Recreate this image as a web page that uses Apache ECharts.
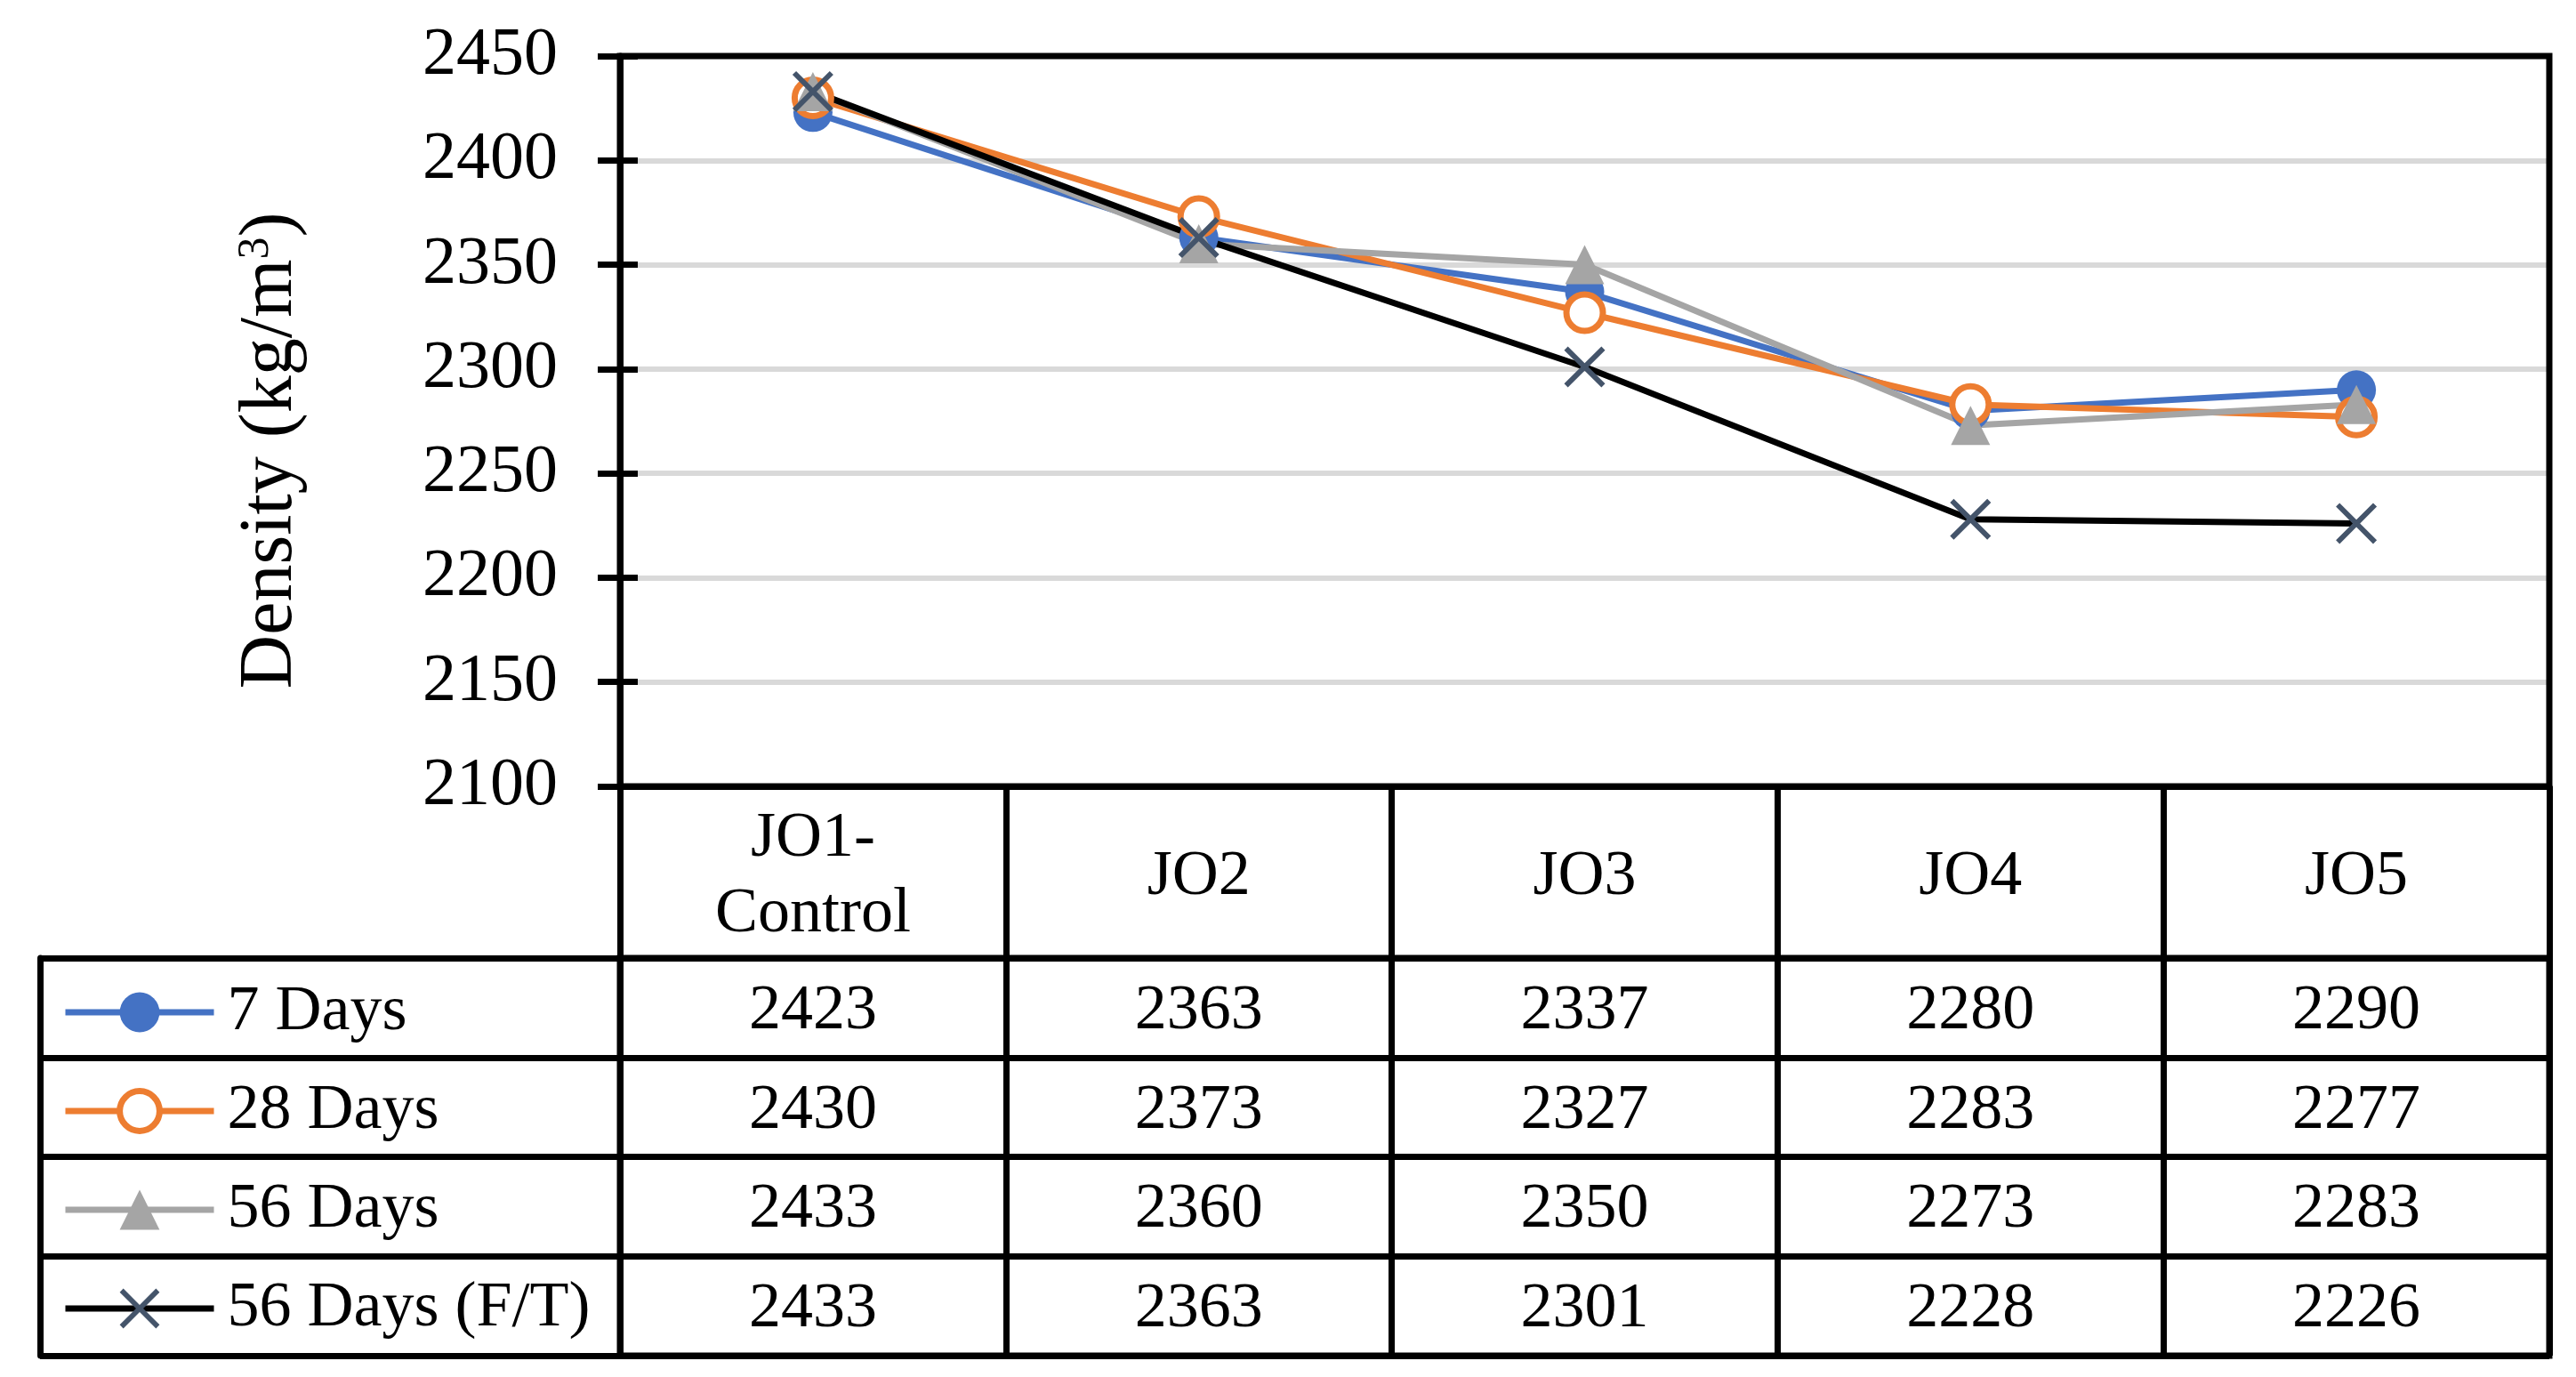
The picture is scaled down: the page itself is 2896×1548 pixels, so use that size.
<!DOCTYPE html>
<html>
<head>
<meta charset="utf-8">
<script src="https://cdn.jsdelivr.net/npm/echarts@6/dist/echarts.min.js"></script>
<style>
html,body{margin:0;padding:0;background:#fff;}
#chart{width:2896px;height:1548px;}
</style>
</head>
<body>
<div id="chart"></div>
<script>
// ---- data ----
const categories = ['JO1-Control', 'JO2', 'JO3', 'JO4', 'JO5'];
const seriesNames = ['7 Days', '28 Days', '56 Days', '56 Days (F/T)'];
const days7 = [2423, 2363, 2337, 2280, 2290];
const days28 = [2430, 2373, 2327, 2283, 2277];
const days56 = [2433, 2360, 2350, 2273, 2283];
const days56FT = [2433, 2363, 2301, 2228, 2226];
const yMin = 2100;
const yMax = 2450;
const yStep = 50;
const yTitle = 'Density (kg/m{sup|3})';

// ---- styling ----
const FONT = '"Liberation Serif", "Times New Roman", serif';
const BLUE = '#4472C4', ORANGE = '#ED7D31', GRAY = '#A5A5A5', SLATE = '#44546A', BLACK = '#000000';
const LW = 7;
const SW = 7;
const X_PATH = 'path://M0,9L9,0L50,41L91,0L100,9L59,50L100,91L91,100L50,59L9,100L0,91L41,50Z';

const rows = [days7, days28, days56, days56FT];
const cells = [];
rows.forEach((arr, r) => arr.forEach((v, c) => cells.push([c, r, v])));

const chart = echarts.init(document.getElementById('chart'), null, {renderer: 'canvas'});
const option = {
  animation: false,
  backgroundColor: '#fff',
  grid: [
    {left: 697, right: 30, top: 63, bottom: 664, show: true, borderColor: BLACK, borderWidth: LW, backgroundColor: 'transparent', outerBoundsMode: 'none', z: 3},
    {left: 697, right: 30, top: 1077, bottom: 24, show: true, borderColor: BLACK, borderWidth: LW, backgroundColor: 'transparent', outerBoundsMode: 'none'}
  ],
  xAxis: [
    {
      gridIndex: 0, type: 'category', data: categories, boundaryGap: true, position: 'bottom',
      axisLine: {show: true, lineStyle: {color: BLACK, width: LW}},
      axisTick: {show: true, interval: 0, length: 640, lineStyle: {color: BLACK, width: LW}},
      axisLabel: {
        show: true, interval: 0, margin: 102, verticalAlign: 'middle', color: BLACK,
        fontFamily: FONT, fontSize: 72, lineHeight: 85, hideOverlap: false,
        formatter: v => v.replace('-', '-\n')
      },
      splitLine: {show: false}
    },
    {
      gridIndex: 1, type: 'category', data: categories, boundaryGap: true,
      axisLine: {show: false}, axisTick: {show: false}, axisLabel: {show: false}, splitLine: {show: false}
    }
  ],
  yAxis: [
    {
      gridIndex: 0, type: 'value', min: yMin, max: yMax, interval: yStep, position: 'left',
      name: yTitle, nameLocation: 'middle', nameRotate: 90, nameGap: 350,
      nameTextStyle: {
        fontFamily: FONT, fontSize: 84, color: BLACK, padding: [0, 66, 0, 0],
        rich: {sup: {fontFamily: FONT, fontSize: 50, color: BLACK, verticalAlign: 'top'}}
      },
      axisLine: {show: true, onZero: false, lineStyle: {color: BLACK, width: LW}},
      axisTick: {show: true, inside: false, length: 25, lineStyle: {color: BLACK, width: LW}},
      axisLabel: {show: true, margin: 70, color: BLACK, fontFamily: FONT, fontSize: 76, formatter: v => String(v)},
      splitLine: {show: true, showMinLine: false, showMaxLine: false, lineStyle: {color: '#D9D9D9', width: 6}}
    },
    {
      gridIndex: 0, type: 'value', min: yMin, max: yMax, interval: yStep, position: 'left',
      axisLine: {show: false},
      axisTick: {show: true, inside: true, length: 20, lineStyle: {color: BLACK, width: LW}},
      axisLabel: {show: false}, splitLine: {show: false}
    },
    {
      gridIndex: 1, type: 'category', data: seriesNames, inverse: true, position: 'left',
      axisLine: {show: true, lineStyle: {color: BLACK, width: LW}},
      axisTick: {show: true, interval: 0, length: 652, lineStyle: {color: BLACK, width: LW}},
      axisLabel: {show: false},
      splitLine: {show: true, interval: 0, lineStyle: {color: BLACK, width: LW}}
    },
    {
      gridIndex: 1, type: 'category', data: seriesNames, inverse: true, position: 'left', offset: 652,
      axisLine: {show: true, lineStyle: {color: BLACK, width: LW}},
      axisTick: {show: false}, axisLabel: {show: false}, splitLine: {show: false}
    }
  ],
  legend: {
    orient: 'vertical', left: 70, top: 1102, padding: 0,
    itemWidth: 167, itemHeight: 56, itemGap: 39, selectedMode: false,
    textStyle: {fontFamily: FONT, fontSize: 72, color: BLACK, padding: [0, 0, 0, 10]},
    lineStyle: {width: LW},
    data: [
      {name: seriesNames[0], itemStyle: {color: BLUE, borderColor: BLUE, borderWidth: 0}, lineStyle: {color: BLUE, width: LW}},
      {name: seriesNames[1], itemStyle: {color: '#fff', borderColor: ORANGE, borderWidth: LW}, lineStyle: {color: ORANGE, width: LW}},
      {name: seriesNames[2], itemStyle: {color: GRAY, borderColor: GRAY, borderWidth: 0}, lineStyle: {color: GRAY, width: LW}},
      {name: seriesNames[3], itemStyle: {color: SLATE, borderColor: SLATE, borderWidth: 0}, lineStyle: {color: BLACK, width: LW}}
    ]
  },
  series: [
    {
      name: seriesNames[0], type: 'line', xAxisIndex: 0, yAxisIndex: 0, data: days7,
      symbol: 'circle', symbolSize: 44, showAllSymbol: true,
      itemStyle: {color: BLUE}, lineStyle: {color: BLUE, width: SW}
    },
    {
      name: seriesNames[1], type: 'line', xAxisIndex: 0, yAxisIndex: 0, data: days28,
      symbol: 'circle', symbolSize: 41, showAllSymbol: true,
      itemStyle: {color: '#fff', borderColor: ORANGE, borderWidth: LW}, lineStyle: {color: ORANGE, width: SW}
    },
    {
      name: seriesNames[2], type: 'line', xAxisIndex: 0, yAxisIndex: 0, data: days56,
      symbol: 'triangle', symbolSize: 44, showAllSymbol: true,
      itemStyle: {color: GRAY}, lineStyle: {color: GRAY, width: SW}
    },
    {
      name: seriesNames[3], type: 'line', xAxisIndex: 0, yAxisIndex: 0, data: days56FT,
      symbol: X_PATH, symbolSize: 46, showAllSymbol: true,
      itemStyle: {color: SLATE}, lineStyle: {color: BLACK, width: SW}
    },
    {
      name: 'table', type: 'scatter', xAxisIndex: 1, yAxisIndex: 2, data: cells,
      symbolSize: 1, silent: true, itemStyle: {color: 'rgba(0,0,0,0)', opacity: 1},
      label: {show: true, position: 'inside', offset: [0, 4], formatter: p => String(p.value[2]), color: BLACK, opacity: 1, fontFamily: FONT, fontSize: 72}
    }
  ]
};
chart.setOption(option);
</script>
</body>
</html>
